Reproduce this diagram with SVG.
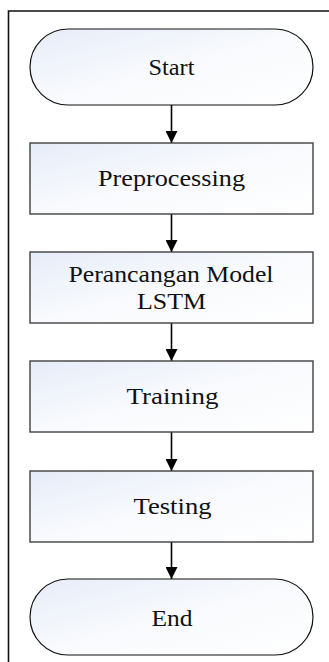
<svg xmlns="http://www.w3.org/2000/svg" width="329" height="662" viewBox="0 0 329 662">
  <defs>
    <linearGradient id="fillGrad" x1="0" y1="0" x2="1" y2="1">
      <stop offset="0" stop-color="#e6ecf8"/>
      <stop offset="0.5" stop-color="#f8fafd"/>
      <stop offset="1" stop-color="#ffffff"/>
    </linearGradient>
    <marker id="arrow" viewBox="0 0 12 12" refX="12" refY="6" markerWidth="12" markerHeight="12" markerUnits="userSpaceOnUse" orient="auto">
      <path d="M0,0 L12,6 L0,12 Z" fill="#000"/>
    </marker>
    <style>
      .term { fill: url(#fillGrad); stroke: #111; stroke-width: 1.2; }
      .proc { fill: url(#fillGrad); stroke: #404040; stroke-width: 1.4; }
      .label { font-family: 'Liberation Serif', 'Times New Roman', serif; font-size: 24px; fill: #111; text-anchor: middle; }
      .conn { stroke: #000; stroke-width: 1.6; fill: none; marker-end: url(#arrow); }
      .frame { stroke: #111; stroke-width: 1.6; fill: none; }
    </style>
  </defs>

  <rect width="329" height="662" fill="#ffffff"/>

  <!-- page frame: only the left and top edges fall inside the view -->
  <path class="frame" d="M8.5,662 L8.5,11 L329,11"/>

  <g id="connectors">
    <line class="conn" x1="171.5" y1="105" x2="171.5" y2="143"/>
    <line class="conn" x1="171.5" y1="214" x2="171.5" y2="252"/>
    <line class="conn" x1="171.5" y1="323" x2="171.5" y2="361"/>
    <line class="conn" x1="171.5" y1="432" x2="171.5" y2="471"/>
    <line class="conn" x1="171.5" y1="542" x2="171.5" y2="579"/>
  </g>

  <g id="start">
    <rect class="term" x="30" y="29" width="283" height="76" rx="38" ry="38"/>
    <text class="label" x="171.5" y="75" textLength="46" lengthAdjust="spacingAndGlyphs">Start</text>
  </g>

  <g id="preprocessing">
    <rect class="proc" x="30" y="143" width="283" height="71"/>
    <text class="label" x="171.5" y="186" textLength="147" lengthAdjust="spacingAndGlyphs">Preprocessing</text>
  </g>

  <g id="perancangan">
    <rect class="proc" x="30" y="252" width="283" height="71"/>
    <text class="label" x="171" y="281.5" textLength="205" lengthAdjust="spacingAndGlyphs">Perancangan Model</text>
    <text class="label" x="171.5" y="309" textLength="69" lengthAdjust="spacingAndGlyphs">LSTM</text>
  </g>

  <g id="training">
    <rect class="proc" x="30" y="361" width="283" height="71"/>
    <text class="label" x="172.5" y="404" textLength="92" lengthAdjust="spacingAndGlyphs">Training</text>
  </g>

  <g id="testing">
    <rect class="proc" x="30" y="471" width="283" height="71"/>
    <text class="label" x="172.5" y="514" textLength="78" lengthAdjust="spacingAndGlyphs">Testing</text>
  </g>

  <g id="end">
    <rect class="term" x="30" y="579" width="283" height="76" rx="38" ry="38"/>
    <text class="label" x="172" y="625.5" textLength="41" lengthAdjust="spacingAndGlyphs">End</text>
  </g>
</svg>
